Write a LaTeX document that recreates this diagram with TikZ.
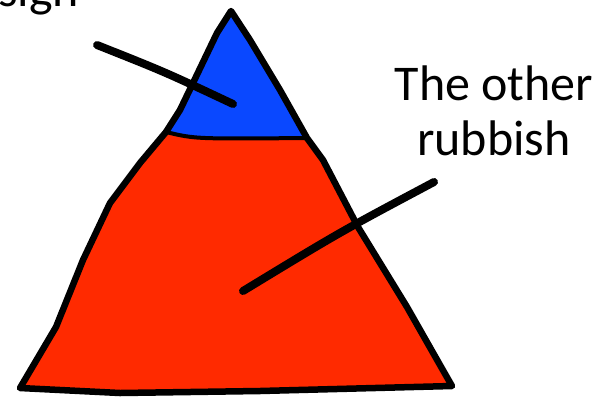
\documentclass[tikz,border=0pt]{standalone}
\usepackage{fontspec}
\setmainfont{Carlito}
\definecolor{heapblue}{RGB}{10,72,255}
\definecolor{heapred}{RGB}{255,42,0}
\tikzset{
  outline/.style={line width=6.5pt, line join=round, line cap=round},
  pointer/.style={line width=8pt, line cap=round},
  callout/.style={font=\fontsize{50}{55}\selectfont, inner sep=0pt, align=center}
}
\begin{document}
\begin{tikzpicture}[x=1pt,y=-1pt]
\useasboundingbox (0,0) rectangle (602,405);
\clip (0,0) rectangle (602,405);

% top of the heap
\fill[heapblue] (231,11) -- (217,33) -- (193,83) -- (180,110) -- (166,132)
  .. controls (195,139) .. (307,138) -- (280,90) -- (250,40) -- cycle;
% the rest
\fill[heapred] (166,132) -- (140,163) -- (110,203) -- (83,260) -- (56,327) -- (20,388)
  -- (120,393) -- (260,391) -- (452,386) -- (440,365) -- (407,307) -- (358,227)
  -- (323,160) -- (307,138) .. controls (195,139) .. (166,132);
\draw[outline] (231,11) -- (217,33) -- (193,83) -- (180,110) -- (166,132)
  -- (140,163) -- (110,203) -- (83,260) -- (56,327) -- (20,388)
  -- (120,393) -- (260,391) -- (452,386) -- (440,365) -- (407,307) -- (358,227)
  -- (323,160) -- (307,138) -- (280,90) -- (250,40) -- cycle;
\draw[line width=4pt] (166,132) .. controls (195,139) .. (307,138);

\node[callout, anchor=base west] (sign) at (-2,6) {sign};
\node[callout, anchor=base] (rubbish) at (494,155) {The other\\rubbish};

\coordinate (sign-from) at (97,45);
\coordinate (sign-to) at (233,104);
\draw[pointer] (sign-from) .. controls (165,72) .. (sign-to);
\coordinate (rub-from) at (434,182);
\coordinate (rub-to) at (243,291);
\draw[pointer] (rub-from) .. controls (340,232) .. (rub-to);
\end{tikzpicture}
\end{document}
